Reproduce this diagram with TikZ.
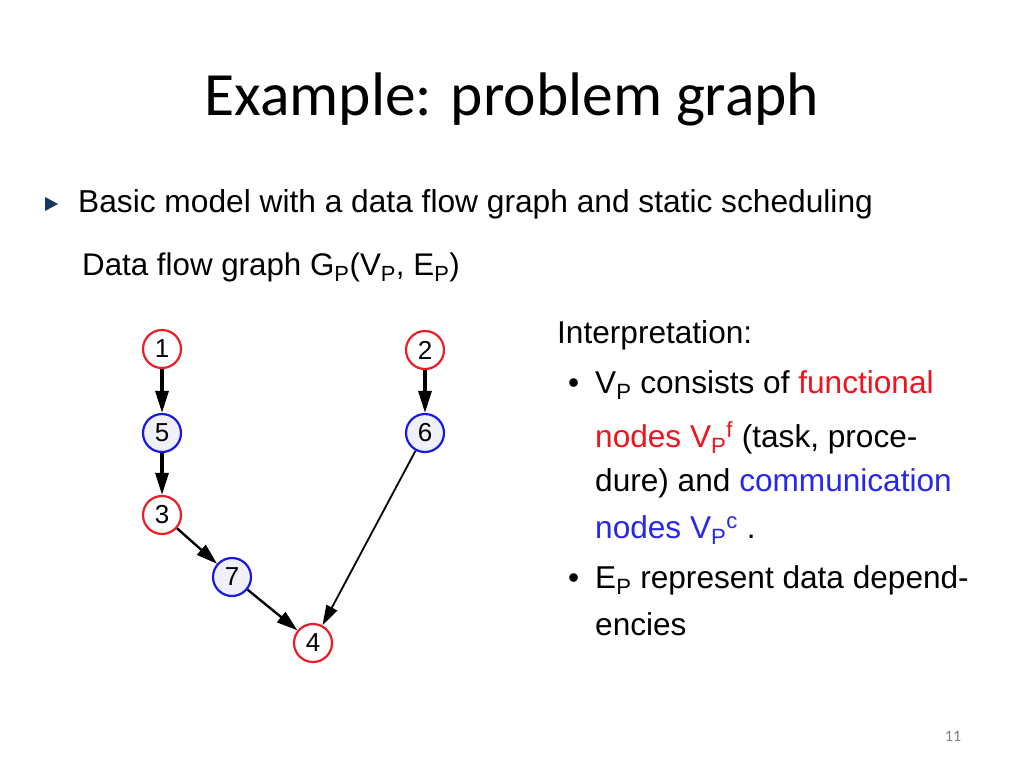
\documentclass[tikz,border=0pt]{standalone}
\usepackage{fontspec}
\setmainfont{Liberation Sans}
\newfontfamily\titlefont{Carlito}
\usetikzlibrary{arrows.meta}
\definecolor{nodered}{RGB}{235,30,40}
\definecolor{nodeblue}{RGB}{25,25,225}
\definecolor{txtred}{RGB}{240,20,30}
\definecolor{txtblue}{RGB}{40,40,235}
\definecolor{bulletblue}{RGB}{23,55,94}
\definecolor{commfill}{RGB}{240,240,248}
\newcommand\sz[1]{\fontsize{#1}{#1}\selectfont}
\tikzset{
  fnode/.style={circle,draw=nodered,fill=white,line width=2.2pt,minimum size=38pt,inner sep=0pt,font=\sz{26}},
  cnode/.style={circle,draw=nodeblue,fill=commfill,line width=2.2pt,minimum size=38pt,inner sep=0pt,font=\sz{26}},
  edgethick/.style={line width=3.2pt,-{Triangle[length=22pt,width=13pt]}},
  edgemid/.style={line width=2.4pt,-{Triangle[length=21pt,width=13pt]}},
  edgethin/.style={line width=1.8pt,-{Triangle[length=20pt,width=12pt]}},
  txt/.style={anchor=base west,inner sep=0pt,font=\sz{31.6}},
}
\begin{document}
\begin{tikzpicture}[x=1pt,y=-1pt]
\useasboundingbox[fill=white] (0,0) rectangle (1024,768);
% title
\node[anchor=base,inner sep=0pt,font=\titlefont\sz{61.5}] (title) at (512,115) {Example: problem graph};
% bullet
\fill[bulletblue] (45,197) -- (58,204) -- (45,211) -- cycle;
\node[txt,font=\sz{31.7}] (l1) at (78,212) {Basic model with a data flow graph and static scheduling};
\node[txt,font=\sz{31.3}] (l2) at (82,275) {Data flow graph G\textsubscript{P}(V\textsubscript{P}, E\textsubscript{P})};
% graph
\node[fnode] (n1) at (162,349) {1};
\node[cnode] (n5) at (162,433) {5};
\node[fnode] (n3) at (162,515) {3};
\node[cnode] (n7) at (232,577) {7};
\node[fnode] (n4) at (313,643) {4};
\node[fnode] (n2) at (425,350) {2};
\node[cnode] (n6) at (425,433) {6};
\draw[edgethick] (n1) -- (n5);
\draw[edgethick] (n5) -- (n3);
\draw[edgethick] (n2) -- (n6);
\draw[edgemid] (n3) -- (n7);
\draw[edgemid] (n7) -- (n4);
\draw[edgethin] (n6) -- (n4);
% interpretation
\node[txt] (i0) at (557,343) {Interpretation:};
\node[txt] (b1) at (568,393) {•};
\node[txt] (i1) at (595,393) {V\textsubscript{P} consists of \textcolor{txtred}{functional}};
\node[txt] (i2) at (595,447) {\textcolor{txtred}{nodes V\textsubscript{P}\textsuperscript{f}} (task, proce-};
\node[txt] (i3) at (595,491) {dure) and \textcolor{txtblue}{communication}};
\node[txt] (i4) at (595,538) {\textcolor{txtblue}{nodes V\textsubscript{P}\textsuperscript{c}} .};
\node[txt] (b2) at (568,588) {•};
\node[txt] (i5) at (595,588) {E\textsubscript{P} represent data depend-};
\node[txt] (i6) at (595,635) {encies};
% page number
\node[anchor=base,inner sep=0pt,font=\titlefont\sz{16},text=gray] (pg) at (953,741) {11};
\end{tikzpicture}
\end{document}
